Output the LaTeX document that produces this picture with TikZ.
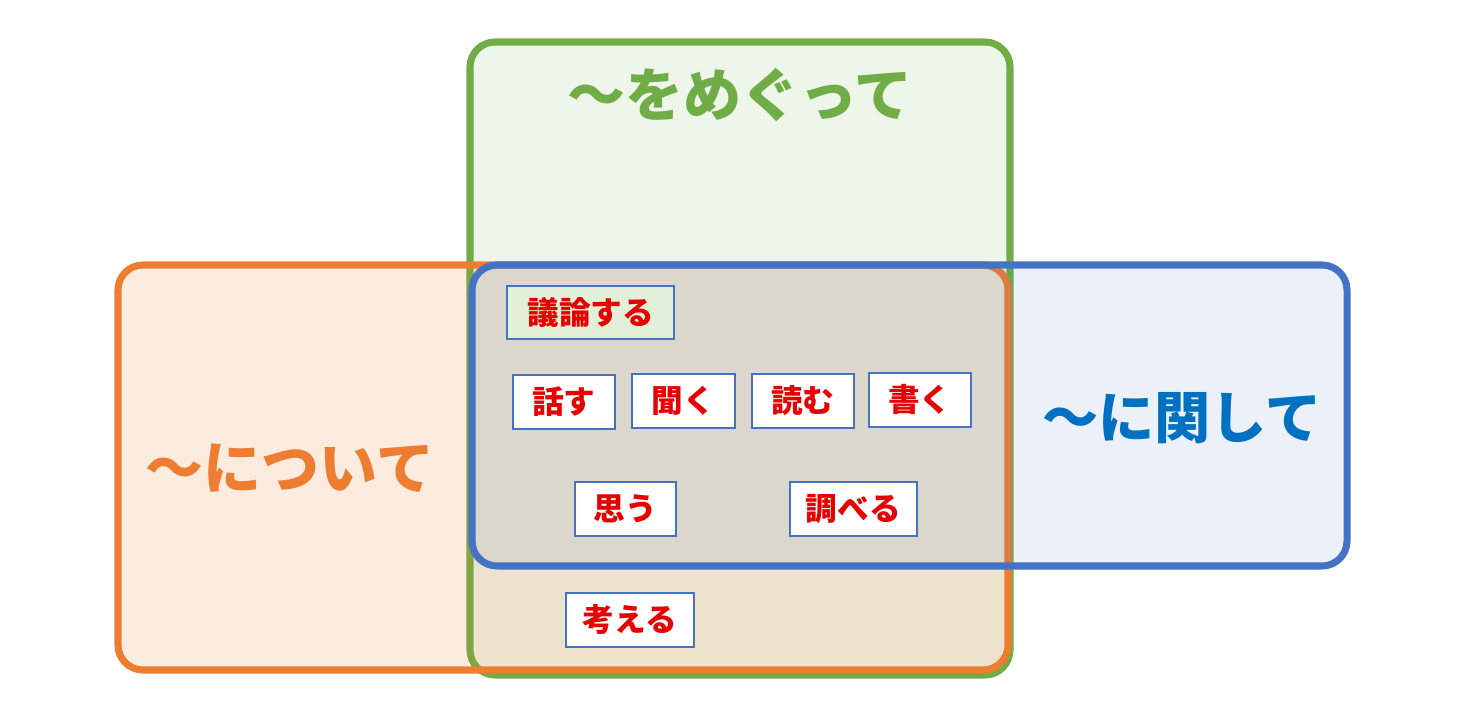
\documentclass[tikz,border=0pt]{standalone}
\usepackage{fontspec}
\newfontfamily\jp{Noto Sans CJK JP}
\definecolor{meguGreen}{RGB}{112,173,71}
\definecolor{tsuOrange}{RGB}{237,125,49}
\definecolor{kanBlue}{RGB}{68,114,196}
\definecolor{kanText}{RGB}{0,112,192}
\definecolor{wordRed}{RGB}{230,0,0}
\definecolor{giFill}{RGB}{226,240,217}
\tikzset{
  set/.style={line width=4pt, rounded corners=0.5cm},
  title/.style={font=\jp\bfseries\fontsize{33}{33}\selectfont, inner sep=0pt},
  word/.style={draw=kanBlue, line width=1.2pt, fill=white, text=wordRed,
    font=\jp\bfseries\fontsize{18}{18}\selectfont, inner sep=0pt, anchor=north west}
}
\begin{document}
\begin{tikzpicture}[x=0.02cm,y=-0.02cm]
    \useasboundingbox (0,0) rectangle (1461,709);
    % three sets
    \draw [set, draw=meguGreen, fill=meguGreen!12] (470,42) rectangle (1010,675);
    \fill [rounded corners=0.5cm, tsuOrange, opacity=0.15] (118,265) rectangle (1008,670);
    \draw [set, draw=tsuOrange] (118,265) rectangle (1008,670);
    \fill [rounded corners=0.5cm, kanBlue, opacity=0.1] (472,265) rectangle (1347,566);
    \draw [set, draw=kanBlue] (472,265) rectangle (1347,566);
    % titles
    \node [title, text=meguGreen] (megu) at (740,95) {〜をめぐって};
    \node [title, text=tsuOrange] (tsui) at (290,468) {〜について};
    \node [title, text=kanText, font=\jp\bfseries\fontsize{32}{32}\selectfont] (kan) at (1182,418) {〜に関して};
    % words
    \node [word, fill=giFill, minimum width=168*0.567pt, minimum height=53*0.567pt] (giron) at (506,285) {議論する};
    \node [word, minimum width=102*0.567pt, minimum height=54*0.567pt] (hanasu) at (512,374) {話す};
    \node [word, minimum width=103*0.567pt, minimum height=54*0.567pt] (kiku) at (631,373) {聞く};
    \node [word, minimum width=102*0.567pt, minimum height=54*0.567pt] (yomu) at (751,373) {読む};
    \node [word, minimum width=102*0.567pt, minimum height=54*0.567pt] (kaku) at (868,372) {書く};
    \node [word, minimum width=101*0.567pt, minimum height=54*0.567pt] (omou) at (574,481) {思う};
    \node [word, minimum width=127*0.567pt, minimum height=54*0.567pt] (shiraberu) at (789,481) {調べる};
    \node [word, minimum width=128*0.567pt, minimum height=54*0.567pt] (kangaeru) at (565,592) {考える};
\end{tikzpicture}
\end{document}
